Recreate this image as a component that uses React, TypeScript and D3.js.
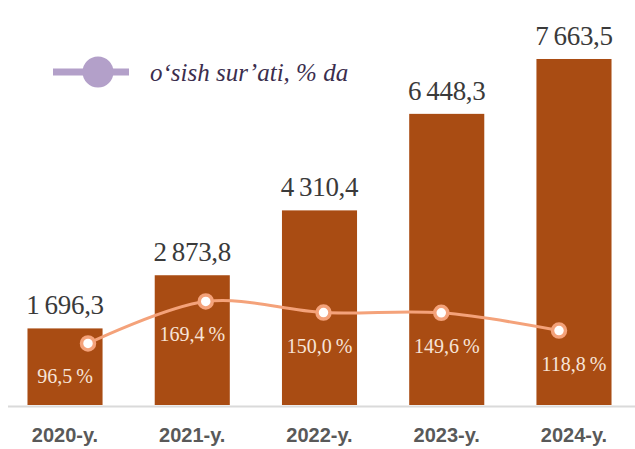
import React from "react";
import * as d3 from "d3";

const categories = ["2020-y.", "2021-y.", "2022-y.", "2023-y.", "2024-y."];
const volumes = [1696.3, 2873.8, 4310.4, 6448.3, 7663.5];
const volumeLabels = ["1\u2009696,3", "2\u2009873,8", "4\u2009310,4", "6\u2009448,3", "7\u2009663,5"];
const growth = [96.5, 169.4, 150.0, 149.6, 118.8];
const growthLabels = ["96,5\u2009%", "169,4\u2009%", "150,0\u2009%", "149,6\u2009%", "118,8\u2009%"];
const legendLabel = "o‘sish sur’ati, % da";

const W = 635;
const H = 449;

export default function App() {
  const x = d3
    .scaleBand<string>()
    .domain(categories)
    .range([1.4, 637.6])
    .paddingInner(0.41)
    .paddingOuter(0.205);
  const y = d3.scaleLinear().domain([0, 8000]).range([405, 43.8]);

  const xl = d3.scalePoint<string>().domain(categories).range([88, 559]);
  const yl = d3.scaleLinear().domain([0, 200]).range([399, 283.8]);

  const line = d3
    .line<number>()
    .x((_, i) => xl(categories[i]) as number)
    .y((d) => yl(d))
    .curve(d3.curveCatmullRom.alpha(0.5));

  const barColor = "#A94C13";
  const lineColor = "#F4A27A";
  const legendColor = "#B3A0C9";

  return (
    <svg
      width={W}
      height={H}
      style={{ position: "absolute", left: 0, top: 0, background: "#fff" }}
    >
      {volumes.map((v, i) => (
        <rect
          key={"b" + i}
          x={x(categories[i])}
          y={y(v)}
          width={x.bandwidth()}
          height={y(0) - y(v)}
          fill={barColor}
        />
      ))}
      <line x1={8} x2={635} y1={406.5} y2={406.5} stroke="#DADADA" strokeWidth={2} />
      {volumes.map((v, i) => (
        <text
          key={"v" + i}
          x={(x(categories[i]) as number) + x.bandwidth() / 2}
          y={y(v) - 14}
          textAnchor="middle"
          fontFamily="'Liberation Serif', 'Times New Roman', serif"
          fontSize={27}
          fill="#3a3a3a"
          letterSpacing={-0.3}
        >
          {volumeLabels[i]}
        </text>
      ))}
      {categories.map((c) => (
        <text
          key={"c" + c}
          x={(x(c) as number) + x.bandwidth() / 2}
          y={442}
          textAnchor="middle"
          fontFamily="'Liberation Sans', Arial, sans-serif"
          fontWeight="bold"
          fontSize={20}
          fill="#595959"
        >
          {c}
        </text>
      ))}
      <path d={line(growth) || ""} fill="none" stroke={lineColor} strokeWidth={3} />
      {growth.map((g, i) => (
        <circle
          key={"p" + i}
          cx={xl(categories[i])}
          cy={yl(g)}
          r={6.5}
          fill="#fff"
          stroke={lineColor}
          strokeWidth={3.5}
        />
      ))}
      {growth.map((g, i) => (
        <text
          key={"g" + i}
          x={(x(categories[i]) as number) + x.bandwidth() / 2}
          y={yl(g) + 40}
          textAnchor="middle"
          fontFamily="'Liberation Serif', 'Times New Roman', serif"
          fontSize={20}
          fill="#F7E4D8"
        >
          {growthLabels[i]}
        </text>
      ))}
      <line x1={53} x2={129} y1={72} y2={72} stroke={legendColor} strokeWidth={7} />
      <circle cx={98} cy={72} r={15.5} fill={legendColor} />
      <text
        x={150}
        y={81}
        fontFamily="'Liberation Serif', 'Times New Roman', serif"
        fontStyle="italic"
        fontSize={25}
        fill="#3B2E4E"
      >
        {legendLabel}
      </text>
    </svg>
  );
}
